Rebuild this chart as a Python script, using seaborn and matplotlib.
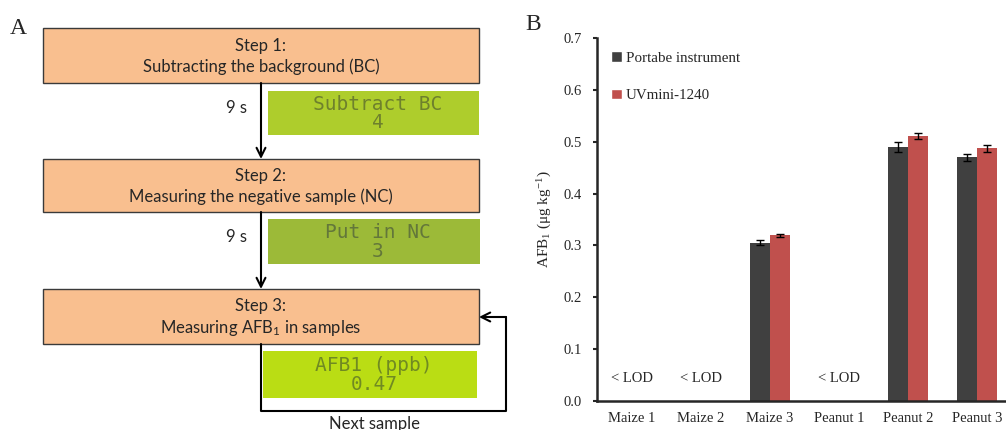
import numpy as np
import pandas as pd
import seaborn as sns
import matplotlib.pyplot as plt
from matplotlib.patches import Rectangle, Patch

sns.set_style("ticks")
plt.rcParams['font.family'] = ['Liberation Serif', 'DejaVu Serif']
plt.rcParams['mathtext.default'] = 'regular'

# panel B data
samples = ["Maize 1", "Maize 2", "Maize 3", "Peanut 1", "Peanut 2", "Peanut 3"]
instruments = ["Portabe instrument", "UVmini-1240"]
portable_vals = [0, 0, 0.305, 0, 0.490, 0.470]
portable_err = [0, 0, 0.005, 0, 0.010, 0.007]
uvmini_vals = [0, 0, 0.320, 0, 0.511, 0.487]
uvmini_err = [0, 0, 0.003, 0, 0.006, 0.006]
y_ticks = [0.0, 0.1, 0.2, 0.3, 0.4, 0.5, 0.6, 0.7]

# panel A text
step_titles = ["Step 1:", "Step 2:", "Step 3:"]
step_texts = ["Subtracting the background (BC)",
              "Measuring the negative sample (NC)",
              "Measuring AFB$_1$ in samples"]
lcd_lines = [("Subtract BC", "4"), ("Put in NC", "3"), ("AFB1 (ppb)", "0.47")]
wait_labels = ["9 s", "9 s"]

dark, red = "#404040", "#C0504D"
box_fill, box_edge = "#F9BF8F", "#3A3A3A"
lcd_fill = ["#AECD2C", "#9CBA38", "#BADD14"]
lcd_text = ["#6E812C", "#63773A", "#708A22"]

fig = plt.figure(figsize=(10.06, 4.30), dpi=100)

# ---- panel A: flowchart drawn in pixel coords
ax_a = fig.add_axes([0, 0, 1, 1])
ax_a.set_xlim(0, 1006)
ax_a.set_ylim(430, 0)
ax_a.axis("off")

sans = ["Lato", "DejaVu Sans"]
box_y = [(28, 83), (159, 212), (289, 344)]
for (y0, y1), title, txt in zip(box_y, step_titles, step_texts):
    ax_a.add_patch(Rectangle((43, y0), 436, y1 - y0, facecolor=box_fill,
                             edgecolor=box_edge, lw=1.0))
    ym = (y0 + y1) / 2
    ax_a.text(261, ym - 10, title, ha="center", va="center", fontsize=12, family=sans)
    ax_a.text(261, ym + 11, txt, ha="center", va="center", fontsize=12, family=sans)

lcd_boxes = [(268, 91, 211, 44), (268, 219, 212, 45), (263, 351, 214, 47)]
for (x, y, w, h), (l1, l2), fc, tc in zip(lcd_boxes, lcd_lines, lcd_fill, lcd_text):
    ax_a.add_patch(Rectangle((x, y), w, h, facecolor=fc, edgecolor="none"))
    ax_a.text(x + w / 2 + 4, y + h * 0.30, l1, ha="center", va="center",
              fontsize=14, family="DejaVu Sans Mono", color=tc)
    ax_a.text(x + w / 2 + 4, y + h * 0.72, l2, ha="center", va="center",
              fontsize=14, family="DejaVu Sans Mono", color=tc)

arrow = dict(arrowstyle="->", lw=1.5, color="black", mutation_scale=16,
             shrinkA=0, shrinkB=0)
for (ya, yb), lab in zip([(83, 159), (212, 289)], wait_labels):
    ax_a.annotate("", xy=(261, yb), xytext=(261, ya), arrowprops=arrow)
    ax_a.text(237, ya + 25, lab, ha="center", va="center", fontsize=12, family=sans)

# feedback loop
ax_a.plot([261, 261, 506, 506], [344, 411, 411, 317], color="black", lw=1.5)
ax_a.annotate("", xy=(479, 317), xytext=(506, 317), arrowprops=arrow)
ax_a.text(375, 416, "Next sample", ha="center", va="top", fontsize=12, family=sans)

ax_a.text(18, 28, "A", ha="center", va="center", fontsize=17)
ax_a.text(533, 25, "B", ha="center", va="center", fontsize=17)

# ---- panel B: bar chart
df = pd.DataFrame({
    "sample": samples * 2,
    "afb1": portable_vals + uvmini_vals,
    "instrument": [instruments[0]] * len(samples) + [instruments[1]] * len(samples),
})

ax = fig.add_axes([597 / 1006, 1 - 401 / 430, 415 / 1006, 363 / 430])
sns.barplot(data=df, x="sample", y="afb1", hue="instrument", order=samples,
            hue_order=instruments, palette=[dark, red], width=0.58, gap=0,
            saturation=1, linewidth=0, legend=False, ax=ax)

for cont, errs in zip(ax.containers, [portable_err, uvmini_err]):
    for bar, err in zip(cont, errs):
        if err > 0:
            ax.errorbar(bar.get_x() + bar.get_width() / 2, bar.get_height(), yerr=err,
                        fmt="none", ecolor="black", elinewidth=1, capsize=3, capthick=1)

for i, (s, v) in enumerate(zip(samples, portable_vals)):
    if v == 0:
        ax.text(i, 0.044, "< LOD", ha="center", va="center", fontsize=10.5)

ax.set_xlim(-0.5, 5.5)
ax.set_ylim(0, 0.7)
ax.set_yticks(y_ticks)
ax.set_yticklabels([f"{t:.1f}" for t in y_ticks])
ax.set_xlabel("")
ax.set_ylabel("AFB$_1$ (μg kg$^{-1}$)", fontsize=11, labelpad=7)
ax.tick_params(axis="y", length=3, width=1.5, pad=8, labelsize=10.5)
ax.tick_params(axis="x", length=0, pad=8, labelsize=10.5)
sns.despine(ax=ax)
ax.spines["left"].set_linewidth(1.8)
ax.spines["bottom"].set_linewidth(1.8)
ax.patch.set_alpha(0)

handles = [Patch(facecolor=dark), Patch(facecolor=red)]
ax.legend(handles, instruments, loc="upper left", bbox_to_anchor=(0.02, 0.98),
          frameon=False, fontsize=10.8, handlelength=0.7, handleheight=0.7,
          handletextpad=0.25, labelspacing=1.6, borderaxespad=0)

fig.savefig("out.png", dpi=100)
